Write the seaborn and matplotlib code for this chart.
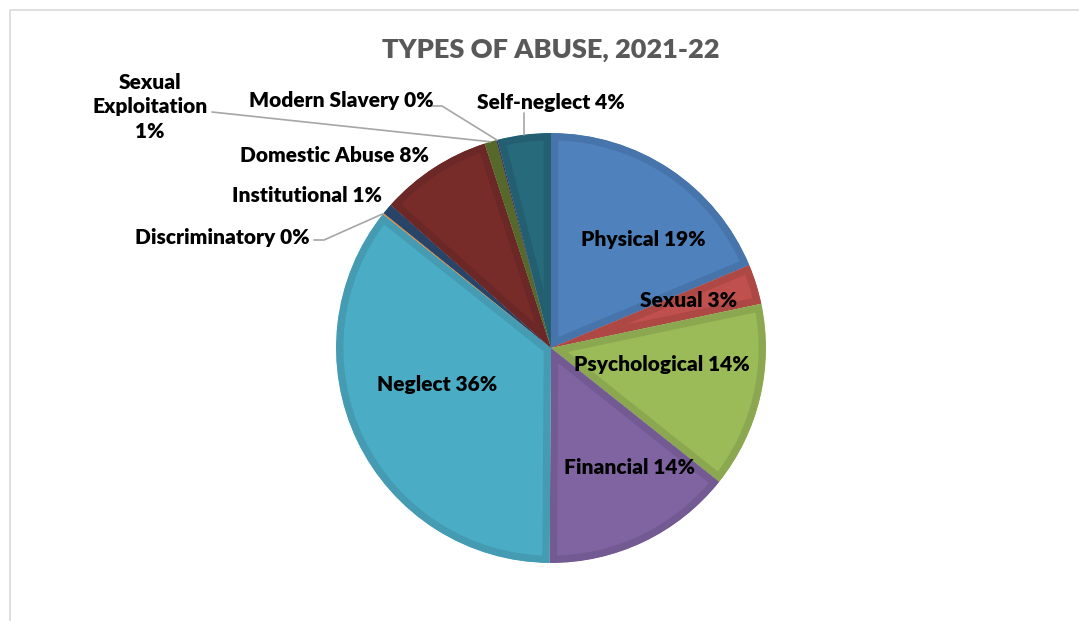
import matplotlib
matplotlib.use("Agg")
import matplotlib.pyplot as plt
from matplotlib.lines import Line2D
import numpy as np
import seaborn as sns

# Data: share of safeguarding concerns by type of abuse (%)
categories = ["Physical", "Sexual", "Psychological", "Financial", "Neglect",
              "Discriminatory", "Institutional", "Domestic Abuse",
              "Sexual Exploitation", "Modern Slavery", "Self-neglect"]
shares = [18.7, 3.0, 14.0, 14.4, 35.6, 0.1, 0.8, 8.4, 0.9, 0.1, 4.0]
slice_colors = ["#4F81BD", "#C0504D", "#9BBB59", "#8064A2", "#4BACC6", "#F79646",
                "#2C4D75", "#772C2A", "#5F7530", "#4D3B62", "#276A7C"]
title_text = "TYPES OF ABUSE, 2021-22"

sns.set_theme(style="white")
plt.rcParams["font.family"] = ["Lato", "DejaVu Sans"]

W, H = 1079, 621
fig = plt.figure(figsize=(W / 100, H / 100), dpi=100)
fig.patch.set_facecolor("white")


def fx(px):
    return px / W


def fy(py):
    return 1 - py / H


# square axes holding the pie (centre 551,348; radius 215 px)
cx, cy, r = 551, 348, 216
ax = fig.add_axes([fx(cx - r), fy(cy + r), 2 * r / W, 2 * r / H])

palette = sns.color_palette(slice_colors)
wedges, _ = ax.pie(shares, colors=palette, startangle=90, counterclock=False,
                   radius=1, center=(0, 0), frame=False)
ax.set_xlim(-1.005, 1.005)
ax.set_ylim(-1.005, 1.005)
ax.set_aspect("equal")
ax.axis("off")

# bevelled rim: darker stroke kept inside each wedge
for w, c in zip(wedges, palette):
    dark = tuple(np.clip(np.array(c) * 0.9, 0, 1))
    w.set_edgecolor(dark)
    w.set_linewidth(10.5)
    w.set_joinstyle("miter")
    w.set_clip_on(True)
    w.set_clip_path(w)


def label_text(i):
    pct = f"{round(shares[i])}%"
    if categories[i] == "Sexual Exploitation":
        return "Sexual\nExploitation\n" + pct
    return f"{categories[i]} {pct}"


# label placement in pixel coordinates (x, y, horizontal alignment)
label_pos = {
    "Physical": (643, 240, "center"),
    "Sexual": (689, 301, "center"),
    "Psychological": (662, 365, "center"),
    "Financial": (630, 467, "center"),
    "Neglect": (437, 385, "center"),
    "Discriminatory": (310, 238, "right"),
    "Institutional": (382, 195, "right"),
    "Domestic Abuse": (429, 155, "right"),
    "Sexual Exploitation": (150, 107, "center"),
    "Modern Slavery": (434, 100, "right"),
    "Self-neglect": (551, 102, "center"),
}

for i, name in enumerate(categories):
    x, y, ha = label_pos[name]
    fig.text(fx(x), fy(y), label_text(i), ha=ha, va="center",
             fontsize=15, fontweight="heavy", color="black",
             linespacing=1.35)


def rim_point(i):
    w = wedges[i]
    mid = np.deg2rad((w.theta1 + w.theta2) / 2)
    px, py = ax.transData.transform((np.cos(mid), np.sin(mid)))
    return px / W, py / H


leader_color = "#A6A6A6"
leaders = {
    "Discriminatory": [(314, 240), (324, 240)],
    "Sexual Exploitation": [(212, 112)],
    "Modern Slavery": [(428, 106), (442, 106)],
    "Self-neglect": [(524, 113)],
}
for name, pts in leaders.items():
    i = categories.index(name)
    xs = [fx(p[0]) for p in pts]
    ys = [fy(p[1]) for p in pts]
    ex, ey = rim_point(i)
    xs.append(ex)
    ys.append(ey)
    fig.add_artist(Line2D(xs, ys, color=leader_color, lw=1.2,
                          transform=fig.transFigure))

fig.text(fx(551), fy(50), title_text, ha="center", va="center",
         fontsize=19.5, fontweight="heavy", color="#595959")

# chart area border
fig.add_artist(Line2D([fx(10), fx(10), fx(W + 5)], [fy(H + 5), fy(10), fy(10)],
                      color="#D9D9D9", lw=1.2, transform=fig.transFigure))

fig.savefig("out.png", dpi=100, facecolor="white")
